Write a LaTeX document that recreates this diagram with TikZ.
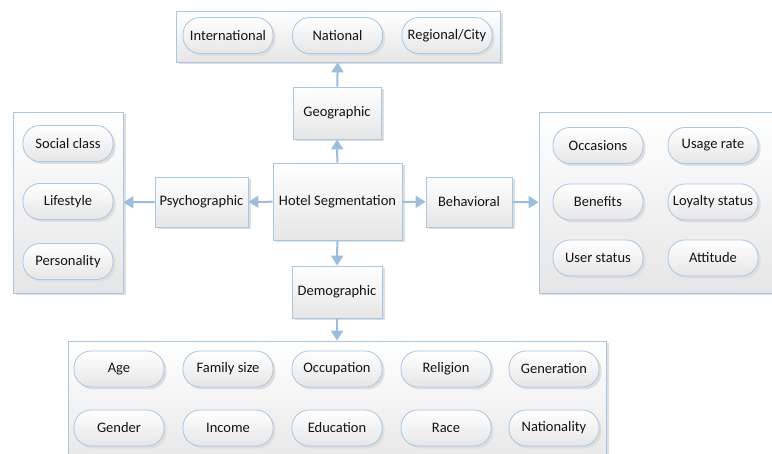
\documentclass[tikz,border=0pt]{standalone}
\usepackage{fontspec}
\setmainfont{Carlito}
\usetikzlibrary{arrows.meta,shadows}

\definecolor{edgeblue}{HTML}{A9C6E2}
\definecolor{arrowblue}{HTML}{9CBDDB}
\definecolor{lowgray}{HTML}{E6E6E6}
\definecolor{textgray}{HTML}{141414}

\begin{document}
\begin{tikzpicture}[x=1pt, y=-1pt, >={Triangle[width=12pt,length=10pt]},
    font=\fontsize{14.5}{16}\selectfont, text=textgray,
    holder/.style={draw=edgeblue, line width=0.8pt, top color=white, bottom color=lowgray,
        drop shadow={shadow xshift=2.5pt, shadow yshift=-2.5pt, fill=black!13, opacity=1}},
    frame/.style={holder, inner sep=0pt},
    segbox/.style={holder, minimum height=50pt, inner sep=0pt},
    pill/.style={holder, rounded corners=17pt, minimum width=90pt, minimum height=36pt, inner sep=0pt},
    link/.style={->, draw=arrowblue, line width=2pt}]
    \useasboundingbox (0, 0) rectangle (772, 454);

    % Containers
    \node[frame, minimum width=324pt, minimum height=51pt] (geoframe) at (338, 36.5) {};
    \node[frame, minimum width=110pt, minimum height=181pt] (psyframe) at (68, 202.5) {};
    \node[frame, minimum width=240pt, minimum height=181pt] (behframe) at (659, 202.5) {};
    \node[frame, minimum width=538pt, minimum height=130pt] (demframe) at (337, 406) {};

    % Segment boxes
    \node[segbox, minimum width=129pt, minimum height=77pt] (hotel) at (337.5, 201.5) {Hotel Segmentation};
    \node[segbox, minimum width=88pt, minimum height=52pt] (geo) at (337, 113) {Geographic};
    \node[segbox, minimum width=93pt] (psy) at (201.5, 202) {Psychographic};
    \node[segbox, minimum width=86pt] (beh) at (469, 202) {Behavioral};
    \node[segbox, minimum width=90pt, minimum height=52pt] (dem) at (337, 292) {Demographic};

    % Geographic
    \node[pill] (intl) at (228, 35.5) {International};
    \node[pill] (natl) at (337.5, 35.5) {National};
    \node[pill] (city) at (447, 35.5) {Regional/City};

    % Psychographic
    \node[pill] (social) at (68, 143.5) {Social class};
    \node[pill] (life) at (68, 201.5) {Lifestyle};
    \node[pill] (person) at (68, 261.5) {Personality};

    % Behavioral
    \node[pill] (occas) at (598, 145.5) {Occasions};
    \node[pill] (usage) at (713, 145.5) {Usage rate};
    \node[pill] (benef) at (598, 202) {Benefits};
    \node[pill] (loyal) at (713, 202) {Loyalty status};
    \node[pill] (user) at (598, 258) {User status};
    \node[pill] (attit) at (713, 258) {Attitude};

    % Demographic
    \node[pill] (age) at (119, 369) {Age};
    \node[pill] (family) at (228, 369) {Family size};
    \node[pill] (occup) at (337, 369) {Occupation};
    \node[pill] (relig) at (446, 369) {Religion};
    \node[pill] (gener) at (554, 369) {Generation};
    \node[pill] (gender) at (119, 428) {Gender};
    \node[pill] (income) at (228, 428) {Income};
    \node[pill] (educ) at (337, 428) {Education};
    \node[pill] (race) at (446, 428) {Race};
    \node[pill] (nation) at (554, 428) {Nationality};

    % Arrows
    \draw[link] (hotel) -- (geo);
    \draw[link] (geo) -- (geoframe);
    \draw[link] (hotel) -- (psy);
    \draw[link] (psy) -- (psyframe);
    \draw[link] (hotel) -- (beh);
    \draw[link] (beh) -- (behframe);
    \draw[link] (hotel) -- (dem);
    \draw[link] (dem) -- (demframe);
\end{tikzpicture}
\end{document}
